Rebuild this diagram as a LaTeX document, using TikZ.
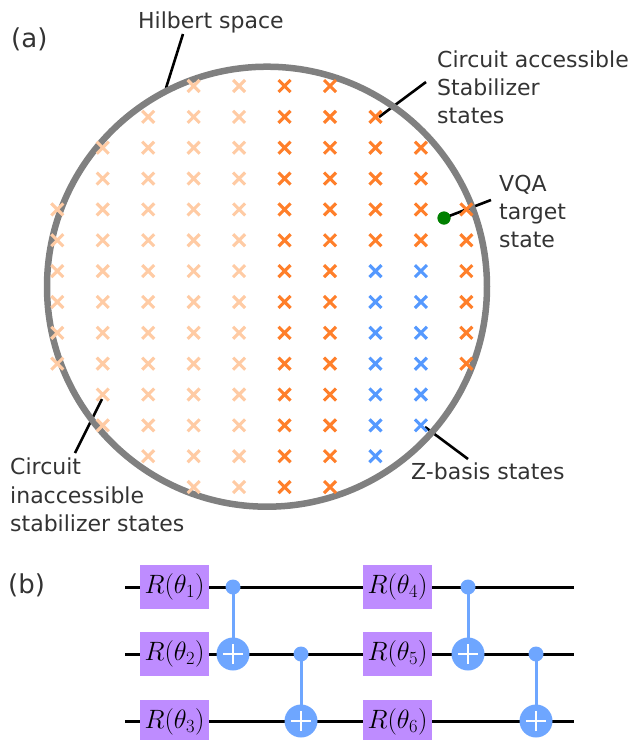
\documentclass[tikz,border=0pt]{standalone}
\usepackage{fontspec}
\usepackage{fix-cm}
\setmainfont{DejaVu Sans}
\usetikzlibrary{shapes.misc}
\definecolor{labeltext}{HTML}{333333}
\definecolor{hilbertgray}{HTML}{808080}
\definecolor{liteorange}{HTML}{FFCBA4}
\definecolor{fullorange}{HTML}{FF7F2A}
\definecolor{zblue}{HTML}{5599FF}
\definecolor{gatepurple}{HTML}{BE8CFF}
\definecolor{cnotblue}{HTML}{6EA6FF}
\tikzset{
  mark cross/.style={cross out,inner sep=0pt,outer sep=0pt,minimum size=12pt,line width=3.1pt},
  lite/.style={mark cross,draw=liteorange},
  acc/.style={mark cross,draw=fullorange},
  zb/.style={mark cross,draw=zblue},
  lab/.style={text=labeltext,inner sep=0pt,align=left,font=\fontsize{22}{28.2}\selectfont},
  panel/.style={text=labeltext,inner sep=0pt,font=\fontsize{26}{30}\selectfont},
  leader/.style={line width=2.6pt},
  wire/.style={line width=3pt},
  gate/.style={fill=gatepurple,minimum width=69pt,minimum height=44pt,inner sep=0pt,font=\fontsize{26.5}{30}\selectfont},
  ctrl/.style={circle,fill=cnotblue,inner sep=0pt,minimum size=15pt},
  targ/.style={circle,fill=cnotblue,inner sep=0pt,minimum size=33pt,
    path picture={\draw[white,line width=2.8pt]
      ([yshift=-10pt]path picture bounding box.center) -- ([yshift=10pt]path picture bounding box.center)
      ([xshift=-10pt]path picture bounding box.center) -- ([xshift=10pt]path picture bounding box.center);}}
}
\newcommand*{\cnotgate}[4]
  {\node[ctrl] (c#1) at (#2,#3) {};
   \draw[cnotblue,line width=3pt] (c#1.center) -- (#2,#4);
   \node[targ] (t#1) at (#2,#4) {};}
\begin{document}
\begin{tikzpicture}[x=1pt,y=-1pt]
\useasboundingbox (0,0) rectangle (631,740);
\coordinate (C) at (267,286.7);
\coordinate (H1) at (183,34);
\coordinate (H2) at (166,88);
\coordinate (A1) at (426,82);
\coordinate (A2) at (379,117);
\coordinate (V1) at (491,200);
\coordinate (I1) at (102,399);
\coordinate (I2) at (75,453);
\coordinate (Z1) at (425,427);
\coordinate (Z2) at (468,459);
\node[circle,fill=green!50!black,inner sep=0pt,minimum size=13pt] (vqa) at (444,218) {};
\draw[leader] (H1) -- (H2);
\draw[leader] (A1) -- (A2);
\draw[leader] (V1) -- (vqa.center);
\draw[leader] (I1) -- (I2);
\draw[leader] (Z1) -- (Z2);
\draw[hilbertgray,line width=6.5pt] (C) circle (220pt);
\foreach \c/\ra/\rb/\kind in {0/4/9/lite,1/2/11/lite,2/1/12/lite,3/0/13/lite,4/0/13/lite,
    5/0/13/acc,6/0/13/acc,7/1/5/acc,7/6/12/zb,8/2/5/acc,8/6/11/zb,9/4/9/acc}
  \foreach \r in {\ra,...,\rb}
    \node[\kind] (s-\r-\c) at ({57.3+45.45*\c},{86+30.85*\r}) {};
\node[circle,fill=green!50!black,inner sep=0pt,minimum size=13pt] at (vqa) {};
\node[panel,anchor=base west] (pa) at (11,47) {(a)};
\node[panel,anchor=base west] (pb) at (8,593) {(b)};
\node[lab,anchor=base west] (hs) at (138,28.3) {Hilbert space};
\node[lab,anchor=north west] (as) at (437,50.5) {Circuit accessible\\Stabilizer\\states};
\node[lab,anchor=north west] (vs) at (499,174.5) {VQA\\target\\state};
\node[lab,anchor=north west] (is) at (10,458) {Circuit\\inaccessible\\stabilizer states};
\node[lab,anchor=base west] (zs) at (411,479) {Z-basis states};
\foreach \n/\wy in {1/587,2/654,3/721}
  {\coordinate (wa\n) at (125,\wy);
   \coordinate (wb\n) at (574,\wy);
   \draw[wire] (wa\n) -- (wb\n);}
\foreach \n/\gx/\gy in {1/174.5/587,2/174.5/654,3/174.5/722,4/397.5/587,5/397.5/654,6/397.5/722}
  \node[gate] (g\n) at (\gx,\gy) {$R(\theta_\n)$};
\cnotgate{1}{233}{587}{654};
\cnotgate{2}{301}{654}{721};
\cnotgate{3}{468}{587}{654};
\cnotgate{4}{536}{654}{721};
\end{tikzpicture}
\end{document}
